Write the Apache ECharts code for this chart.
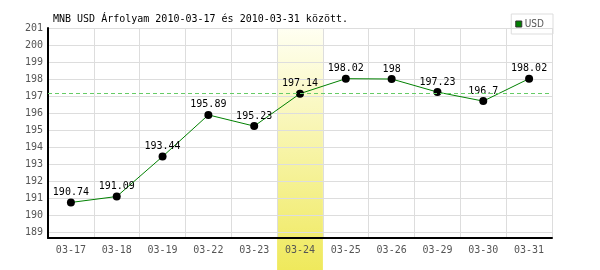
<!DOCTYPE html>
<html><head><meta charset="utf-8">
<script src="https://cdn.jsdelivr.net/npm/echarts@6/dist/echarts.min.js"></script>
<style>html,body{margin:0;padding:0;background:#fff}#c{width:600px;height:270px}</style>
</head><body><div id="c"></div>
<script>
var categories = ['03-17','03-18','03-19','03-22','03-23','03-24','03-25','03-26','03-29','03-30','03-31'];
var usdValues = [190.74, 191.09, 193.44, 195.89, 195.23, 197.14, 198.02, 198, 197.23, 196.7, 198.02];
var yTickValues = [189, 190, 191, 192, 193, 194, 195, 196, 197, 198, 199, 200, 201];
var highlightCategory = '03-24';
var referenceValue = 197.14;
var titleText = 'MNB USD Árfolyam 2010-03-17 és 2010-03-31 között.';
var seriesName = 'USD';

var mono = 'DejaVu Sans Mono';
var chart = echarts.init(document.getElementById('c'), null, {renderer: 'canvas'});
var option = {
  animation: false,
  title: {text: titleText, left: 48, top: 9, textStyle: {fontFamily: mono, fontSize: 10, fontWeight: 'normal', color: '#000'}},
  legend: {
    data: [{name: seriesName, icon: 'rect', itemStyle: {color: '#008000', borderColor: '#333', borderWidth: 1}}],
    right: 47, top: 14, orient: 'vertical',
    borderColor: '#ddd', borderWidth: 1, padding: [4, 9, 4, 4], itemWidth: 6, itemHeight: 6, itemGap: 4,
    textStyle: {fontFamily: 'DejaVu Sans Condensed', fontSize: 10, color: '#555', lineHeight: 12, padding: [0,0,0,-2]}
  },
  grid: {left: 48, right: 48, top: 28, bottom: 32},
  xAxis: {
    type: 'category', data: categories, boundaryGap: true,
    axisLine: {lineStyle: {color: '#000', width: 2}},
    axisTick: {show: false},
    axisLabel: {fontFamily: mono, fontSize: 10, color: '#555', margin: 7},
    splitLine: {show: true, lineStyle: {color: '#ddd'}}
  },
  yAxis: {
    type: 'value', min: 188.65, max: 201,
    axisLine: {show: true, lineStyle: {color: '#000', width: 2}},
    axisTick: {show: false, customValues: yTickValues},
    axisLabel: {fontFamily: mono, fontSize: 10, color: '#555', margin: 5, customValues: yTickValues},
    splitLine: {lineStyle: {color: '#ddd'}}
  },
  series: [{
    name: seriesName, type: 'line',
    data: usdValues.map(function(v){ return {value: v, itemStyle: {color: '#000'}}; }),
    lineStyle: {color: '#008000', width: 1},
    itemStyle: {color: '#008000'},
    symbol: 'circle', symbolSize: 8,
    emphasis: {disabled: true},
    label: {show: true, position: 'top', distance: 1, fontFamily: mono, fontSize: 10, color: '#000'},
    markLine: {
      silent: true, symbol: ['none','none'], label: {show: false},
      lineStyle: {color: '#66cc66', type: [4, 3], width: 1},
      data: [{yAxis: referenceValue, lineStyle: {color: '#66cc66', type: [4, 3], width: 1}}]
    },
    z: 3
  }]
};
chart.setOption(option);

var idx = categories.indexOf(highlightCategory);
var c0 = chart.convertToPixel({xAxisIndex: 0}, idx);
var c1 = chart.convertToPixel({xAxisIndex: 0}, idx + 1);
var w = c1 - c0;
var xl = c0 - w / 2;
var yTop = chart.convertToPixel({yAxisIndex: 0}, yTickValues[yTickValues.length - 1]);
chart.setOption({
  graphic: [{
    type: 'rect', z: -1, silent: true,
    shape: {x: xl, y: yTop, width: w, height: 270 - yTop},
    style: {fill: new echarts.graphic.LinearGradient(0, 0, 0, 1, [
      {offset: 0, color: '#fffff2'}, {offset: 1, color: '#efe95c'}
    ])}
  }]
});
</script></body></html>
